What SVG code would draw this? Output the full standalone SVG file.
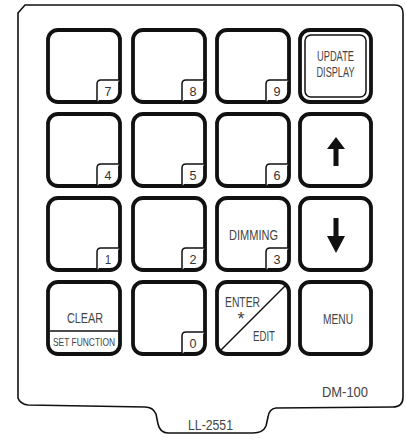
<svg xmlns="http://www.w3.org/2000/svg" width="406" height="440" viewBox="0 0 406 440">
<style>
.panel{fill:#fff;stroke:#111;stroke-width:1.6}
.key{fill:#fff;stroke:#111;stroke-width:3.8}
.inner{fill:none;stroke:#111;stroke-width:1.5}
.tab{fill:#fff;stroke:#111;stroke-width:1.5}
.num{font-family:"Liberation Sans",Arial,sans-serif;font-size:13px;fill:#333;text-anchor:middle}
.lbl{font-family:"Liberation Sans",Arial,sans-serif;font-size:14px;fill:#444;text-anchor:middle}
.line{stroke:#111;stroke-width:1.5;fill:none}
</style>
<rect width="406" height="440" fill="#fff"/>
<g id="panel">
<path class="panel" d="M18 13 L25 5 L395 5 Q403 5 403 13 L403 397 Q403 407 393 407 L276 408 Q269 409 268 417 L266 426 Q263 433 253 433 L168 433 Q160 433 158 424 L156 414 Q153 407 145 407 L28 405 Q20 404 18 398 Z"/>
</g>
<g id="key7"><rect class="key" x="48" y="30" width="72" height="72" rx="10"/><path class="tab" d="M97 102 V84 Q97 80 101 80 H120"/><text class="num" x="108" y="96" textLength="7" lengthAdjust="spacingAndGlyphs">7</text></g>
<g id="key8"><rect class="key" x="133" y="30" width="72" height="72" rx="10"/><path class="tab" d="M182 102 V84 Q182 80 186 80 H205"/><text class="num" x="193" y="96" textLength="7" lengthAdjust="spacingAndGlyphs">8</text></g>
<g id="key9"><rect class="key" x="217" y="30" width="72" height="72" rx="10"/><path class="tab" d="M266 102 V84 Q266 80 270 80 H289"/><text class="num" x="277" y="96" textLength="7" lengthAdjust="spacingAndGlyphs">9</text></g>
<g id="key-update"><rect class="key" x="300" y="30" width="71" height="72" rx="10"/><rect class="inner" x="305" y="35" width="61" height="62" rx="6"/><text class="lbl" x="335.5" y="61" textLength="37" lengthAdjust="spacingAndGlyphs">UPDATE</text><text class="lbl" x="335.5" y="77" textLength="38" lengthAdjust="spacingAndGlyphs">DISPLAY</text></g>

<g id="key4"><rect class="key" x="48" y="114" width="72" height="72" rx="10"/><path class="tab" d="M97 186 V168 Q97 164 101 164 H120"/><text class="num" x="108" y="180" textLength="7" lengthAdjust="spacingAndGlyphs">4</text></g>
<g id="key5"><rect class="key" x="133" y="114" width="72" height="72" rx="10"/><path class="tab" d="M182 186 V168 Q182 164 186 164 H205"/><text class="num" x="193" y="180" textLength="7" lengthAdjust="spacingAndGlyphs">5</text></g>
<g id="key6"><rect class="key" x="217" y="114" width="72" height="72" rx="10"/><path class="tab" d="M266 186 V168 Q266 164 270 164 H289"/><text class="num" x="277" y="180" textLength="7" lengthAdjust="spacingAndGlyphs">6</text></g>
<g id="key-up"><rect class="key" x="300" y="114" width="71" height="72" rx="10"/><path d="M336 137 L345 149 L338.5 149 L338.5 166 L333.5 166 L333.5 149 L327 149 Z" fill="#111"/></g>

<g id="key1"><rect class="key" x="48" y="198" width="72" height="72" rx="10"/><path class="tab" d="M97 270 V252 Q97 248 101 248 H120"/><text class="num" x="108" y="264" textLength="6" lengthAdjust="spacingAndGlyphs">1</text></g>
<g id="key2"><rect class="key" x="133" y="198" width="72" height="72" rx="10"/><path class="tab" d="M182 270 V252 Q182 248 186 248 H205"/><text class="num" x="193" y="264" textLength="7" lengthAdjust="spacingAndGlyphs">2</text></g>
<g id="key3"><rect class="key" x="217" y="198" width="72" height="72" rx="10"/><path class="tab" d="M266 270 V252 Q266 248 270 248 H289"/><text class="num" x="277" y="264" textLength="7" lengthAdjust="spacingAndGlyphs">3</text><text class="lbl" x="253.5" y="240" textLength="49" lengthAdjust="spacingAndGlyphs">DIMMING</text></g>
<g id="key-down"><rect class="key" x="300" y="198" width="71" height="72" rx="10"/><path d="M336 253 L345 236 L338.5 236 L338.5 218 L333.5 218 L333.5 236 L327 236 Z" fill="#111"/></g>

<g id="key-clear"><rect class="key" x="48" y="282" width="72" height="72" rx="10"/><line class="line" x1="50" y1="331" x2="118" y2="331"/><text class="lbl" x="85" y="323" textLength="36" lengthAdjust="spacingAndGlyphs">CLEAR</text><text class="lbl" x="84" y="346" style="font-size:11px" textLength="62" lengthAdjust="spacingAndGlyphs">SET FUNCTION</text></g>
<g id="key0"><rect class="key" x="133" y="282" width="72" height="72" rx="10"/><path class="tab" d="M182 354 V336 Q182 332 186 332 H205"/><text class="num" x="193" y="348" textLength="7" lengthAdjust="spacingAndGlyphs">0</text></g>
<g id="key-enter"><rect class="key" x="217" y="282" width="72" height="72" rx="10"/><line class="line" x1="220" y1="351" x2="286" y2="285"/><text class="lbl" x="242.5" y="307" textLength="35" lengthAdjust="spacingAndGlyphs">ENTER</text><text class="lbl" x="241" y="325" style="font-size:18px">*</text><text class="lbl" x="264" y="341" textLength="22" lengthAdjust="spacingAndGlyphs">EDIT</text></g>
<g id="key-menu"><rect class="key" x="300" y="282" width="71" height="72" rx="10"/><text class="lbl" x="338" y="324" textLength="30" lengthAdjust="spacingAndGlyphs">MENU</text></g>

<g id="labels">
<text class="lbl" x="345" y="397" textLength="46" lengthAdjust="spacingAndGlyphs">DM-100</text>
<text class="lbl" x="210.5" y="430" textLength="45" lengthAdjust="spacingAndGlyphs">LL-2551</text>
</g>
</svg>
